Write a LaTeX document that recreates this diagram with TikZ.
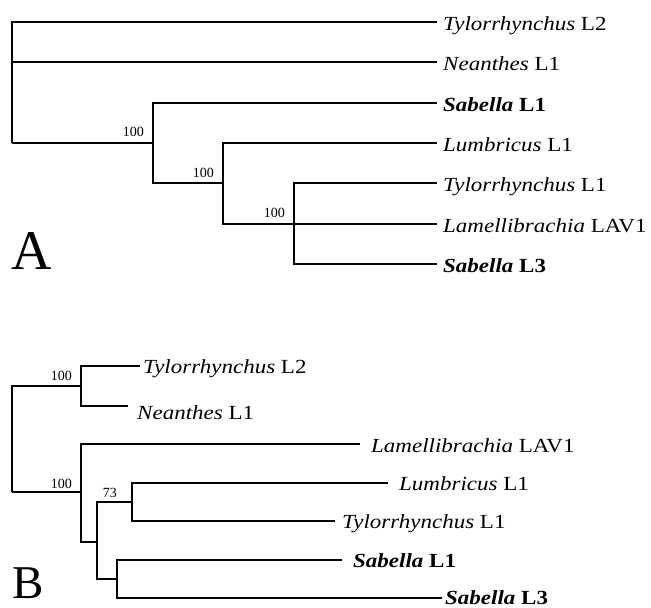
\documentclass[tikz,border=0pt]{standalone}
\usepackage{fontspec}
\setmainfont{Liberation Serif}
\newcommand{\wide}[1]{\scalebox{1.15}[1]{#1}}
\tikzset{
  branch/.style={line width=2.7pt, line join=miter, line cap=butt},
  taxon/.style={anchor=base west, inner sep=0pt, font=\fontsize{20}{20}\selectfont},
  support/.style={anchor=base east, inner sep=0pt, font=\fontsize{14}{14}\selectfont},
  panel/.style={anchor=base west, inner sep=0pt},
}
\begin{document}
\begin{tikzpicture}[x=1pt,y=-1pt]
\useasboundingbox (0,0) rectangle (651,608);

% ---------- Tree A ----------
\coordinate (rA) at (12,143);
\coordinate (a1) at (153,143);
\coordinate (a2) at (223,183);
\coordinate (a3) at (294,224);
\coordinate (tA1) at (437,22);
\coordinate (tA2) at (437,62);
\coordinate (tA3) at (437,103);
\coordinate (tA4) at (437,143);
\coordinate (tA5) at (437,183);
\coordinate (tA6) at (437,224);
\coordinate (tA7) at (437,264);

\draw[branch] (rA) |- (tA1);
\draw[branch] (rA) |- (tA2);
\draw[branch] (rA) |- (a1);
\draw[branch] (a1) |- (tA3);
\draw[branch] (a1) |- (a2);
\draw[branch] (a2) |- (tA4);
\draw[branch] (a2) |- (a3);
\draw[branch] (a3) |- (tA5);
\draw[branch] (a3) |- (tA6);
\draw[branch] (a3) |- (tA7);

\node[taxon] (lA1) at (443,30.5) {\wide{\textit{Tylorrhynchus} L2}};
\node[taxon] (lA2) at (443,70.5) {\wide{\textit{Neanthes} L1}};
\node[taxon] (lA3) at (443,111.5) {\wide{\textbf{\textit{Sabella} L1}}};
\node[taxon] (lA4) at (443,151.5) {\wide{\textit{Lumbricus} L1}};
\node[taxon] (lA5) at (443,191.5) {\wide{\textit{Tylorrhynchus} L1}};
\node[taxon] (lA6) at (443,232.5) {\wide{\textit{Lamellibrachia} LAV1}};
\node[taxon] (lA7) at (443,272.5) {\wide{\textbf{\textit{Sabella} L3}}};

\node[support] (sA1) at (144,136) {100};
\node[support] (sA2) at (214,177) {100};
\node[support] (sA3) at (285,217) {100};

\node[panel, font=\fontsize{56}{56}\selectfont] (pA) at (11,269) {A};

% ---------- Tree B ----------
\coordinate (rB) at (12,492);
\coordinate (b1) at (81,386);
\coordinate (b2) at (81,492);
\coordinate (b3) at (97,542);
\coordinate (b4) at (132,502);
\coordinate (b5) at (117,579);
\coordinate (tB1) at (140,366);
\coordinate (tB2) at (128,406);
\coordinate (tB3) at (360,444);
\coordinate (tB4) at (388,483);
\coordinate (tB5) at (335,521);
\coordinate (tB6) at (342,560);
\coordinate (tB7) at (442,598);

\draw[branch] (rB) |- (b1);
\draw[branch] (rB) |- (b2);
\draw[branch] (b1) |- (tB1);
\draw[branch] (b1) |- (tB2);
\draw[branch] (b2) |- (tB3);
\draw[branch] (b2) |- (b3);
\draw[branch] (b3) |- (b4);
\draw[branch] (b3) |- (b5);
\draw[branch] (b4) |- (tB4);
\draw[branch] (b4) |- (tB5);
\draw[branch] (b5) |- (tB6);
\draw[branch] (b5) |- (tB7);

\node[taxon] (lB1) at (143,373) {\wide{\textit{Tylorrhynchus} L2}};
\node[taxon] (lB2) at (137,419) {\wide{\textit{Neanthes} L1}};
\node[taxon] (lB3) at (371,452) {\wide{\textit{Lamellibrachia} LAV1}};
\node[taxon] (lB4) at (399,490) {\wide{\textit{Lumbricus} L1}};
\node[taxon] (lB5) at (342,528) {\wide{\textit{Tylorrhynchus} L1}};
\node[taxon] (lB6) at (353,567) {\wide{\textbf{\textit{Sabella} L1}}};
\node[taxon] (lB7) at (445,604) {\wide{\textbf{\textit{Sabella} L3}}};

\node[support] (sB1) at (72,380) {100};
\node[support] (sB2) at (72,488) {100};
\node[support] (sB3) at (117,497) {73};

\node[panel, font=\fontsize{47}{47}\selectfont] (pB) at (12,598) {B};
\end{tikzpicture}
\end{document}
